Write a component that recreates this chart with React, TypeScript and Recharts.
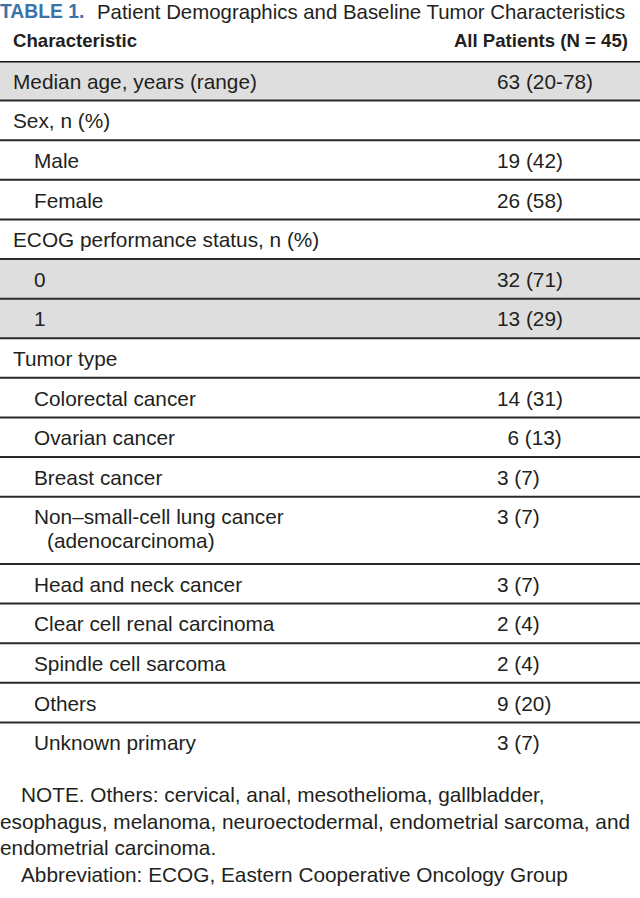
import React from "react";
import { BarChart, Bar, XAxis, YAxis } from "recharts";

const titleTag = "TABLE 1.";
const titleText = "Patient Demographics and Baseline Tumor Characteristics";
const headerLabel = "Characteristic";
const headerValue = "All Patients (N = 45)";

const rowLabels = [
  "Median age, years (range)",
  "Sex, n (%)",
  "Male",
  "Female",
  "ECOG performance status, n (%)",
  "0",
  "1",
  "Tumor type",
  "Colorectal cancer",
  "Ovarian cancer",
  "Breast cancer",
  "Non–small-cell lung cancer\n(adenocarcinoma)",
  "Head and neck cancer",
  "Clear cell renal carcinoma",
  "Spindle cell sarcoma",
  "Others",
  "Unknown primary",
];
const rowValues = [
  "63 (20-78)", "", "19 (42)", "26 (58)", "", "32 (71)", "13 (29)", "",
  "14 (31)", "\u20026 (13)", "3 (7)", "3 (7)", "3 (7)", "2 (4)", "2 (4)", "9 (20)", "3 (7)",
];
const rowLevel = [0, 0, 1, 1, 0, 1, 1, 0, 1, 1, 1, 1, 1, 1, 1, 1, 1];
const rowShaded = [true, false, false, false, false, true, true, false, false, false, false, false, false, false, false, false, false];
const rowSpan = [1, 1, 1, 1, 1, 1, 1, 1, 1, 1, 1, 1.7, 1, 1, 1, 1, 1];

const noteLines = [
  "NOTE. Others: cervical, anal, mesothelioma, gallbladder,",
  "esophagus, melanoma, neuroectodermal, endometrial sarcoma, and",
  "endometrial carcinoma.",
  "Abbreviation: ECOG, Eastern Cooperative Oncology Group",
];
const noteIndent = [true, false, false, true];

const FONT = "'Liberation Sans', Arial, sans-serif";
const INK = "#231f20";

const total = rowSpan.reduce((a, b) => a + b, 0);
const data = [
  Object.fromEntries([["table", "Table 1"], ...rowSpan.map((s, i) => ["r" + i, s])]),
];

const makeShape = (i: number) => (props: any) => {
  const { x, y, width, height } = props;
  const lines = rowLabels[i].split("\n");
  const lx = x + (rowLevel[i] ? 34 : 13);
  return (
    <g>
      <rect x={x} y={y} width={width} height={height} fill={rowShaded[i] ? "#dedede" : "#ffffff"} />
      {lines.map((t, k) => (
        <text key={k} x={lx + (k ? 13 : 0)} y={y + 27.8 + k * 23.5} fontFamily={FONT} fontSize={20.8} fill={INK}>
          {t}
        </text>
      ))}
      {rowValues[i] ? (
        <text x={x + 497} y={y + 27.8} fontFamily={FONT} fontSize={20.8} fill={INK}>
          {rowValues[i]}
        </text>
      ) : null}
      {i < rowLabels.length - 1 ? (
        <line x1={x} x2={x + width} y1={y + height} y2={y + height} stroke="#2a2a2a" strokeWidth={2} />
      ) : null}
      {i === 0 ? <line x1={x} x2={x + width} y1={y} y2={y} stroke="#111111" strokeWidth={3} /> : null}
    </g>
  );
};

const order = rowLabels.map((_, i) => rowLabels.length - 1 - i);

export default function App() {
  return (
    <div style={{ position: "absolute", left: 0, top: 0, width: 640, height: 898, background: "#ffffff" }}>
      <BarChart
        width={640}
        height={898}
        data={data}
        margin={{ top: 61, right: 0, bottom: 136, left: 0 }}
        barCategoryGap={0}
        barGap={0}
      >
        <XAxis dataKey="table" type="category" hide />
        <YAxis type="number" domain={[0, total]} allowDataOverflow hide />
        {order.map((i) => (
          <Bar
            key={i}
            dataKey={"r" + i}
            stackId="t"
            isAnimationActive={false}
            shape={makeShape(i)}
          />
        ))}
      </BarChart>
      <svg
        width={640}
        height={898}
        style={{ position: "absolute", left: 0, top: 0, pointerEvents: "none" }}
      >
        <text x={0} y={18} fontFamily={FONT} fontWeight="bold" fontSize={19.3} fill="#3d72a8">
          {titleTag}
        </text>
        <text x={97} y={18.5} fontFamily={FONT} fontSize={20.4} fill={INK}>
          {titleText}
        </text>
        <text x={13} y={47} fontFamily={FONT} fontWeight="bold" fontSize={18.6} fill={INK}>
          {headerLabel}
        </text>
        <text x={628} y={47} textAnchor="end" fontFamily={FONT} fontWeight="bold" fontSize={18.6} fill={INK}>
          {headerValue}
        </text>
        {noteLines.map((t, k) => (
          <text
            key={k}
            x={noteIndent[k] ? 21 : 0}
            y={802 + k * 26.6}
            fontFamily={FONT}
            fontSize={20.8}
            fill={INK}
          >
            {t}
          </text>
        ))}
      </svg>
    </div>
  );
}
